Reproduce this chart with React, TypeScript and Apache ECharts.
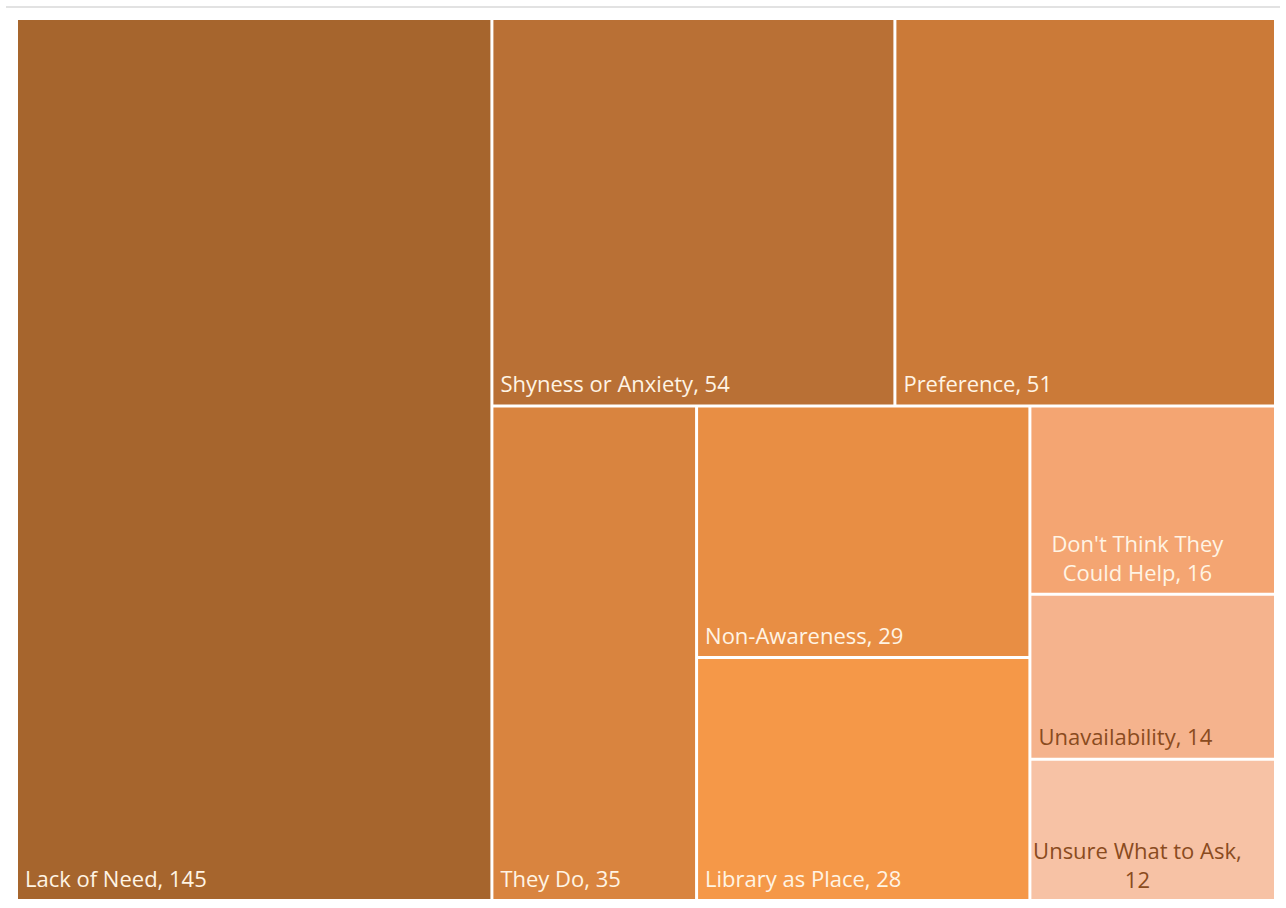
import React, { useEffect, useRef } from "react";
import * as echarts from "echarts";

const categories = [
  "Lack of Need",
  "Shyness or Anxiety",
  "Preference",
  "They Do",
  "Non-Awareness",
  "Library as Place",
  "Don't Think They Could Help",
  "Unavailability",
  "Unsure What to Ask",
];
const values = [145, 54, 51, 35, 29, 28, 16, 14, 12];
const colors = [
  "#A6652D",
  "#B97035",
  "#CB7A38",
  "#D9843F",
  "#E88E44",
  "#F59848",
  "#F4A572",
  "#F5B38D",
  "#F7C2A5",
];
const labelColors = [
  "#FFF4E4",
  "#FFF4E4",
  "#FFF4E4",
  "#FFF4E4",
  "#FFF4E4",
  "#FFF4E4",
  "#FFF4E4",
  "#8A4B20",
  "#8A4B20",
];
const wrapped = [false, false, false, false, false, false, true, false, true];

const FONT_FAMILY = "Open Sans";
const FONT_SIZE = 22;

function wrapText(text: string, maxWidth: number): string {
  const canvas = document.createElement("canvas");
  const ctx = canvas.getContext("2d");
  if (!ctx) return text;
  ctx.font = `${FONT_SIZE}px "${FONT_FAMILY}"`;
  const words = text.split(" ");
  const lines: string[] = [];
  let cur = "";
  for (const w of words) {
    const trial = cur ? cur + " " + w : w;
    if (cur && ctx.measureText(trial).width > maxWidth) {
      lines.push(cur);
      cur = w;
    } else {
      cur = trial;
    }
  }
  if (cur) lines.push(cur);
  return lines.join("\n");
}

export default function App() {
  const ref = useRef<HTMLDivElement>(null);
  useEffect(() => {
    if (!ref.current) return;
    const chart = echarts.init(ref.current, null, { renderer: "svg" });
    const data = categories.map((name, i) => ({
      name,
      value: values[i],
      itemStyle: { color: colors[i] },
      label: wrapped[i]
        ? {
            color: labelColors[i],
            position: [106, "100%"],
            align: "center",
            verticalAlign: "bottom",
            offset: [0, -6],
            formatter: (p: any) => wrapText(`${p.name}, ${p.value}`, 215),
          }
        : { color: labelColors[i] },
    }));
    chart.setOption({
      animation: false,
      backgroundColor: "#ffffff",
      graphic: [
        {
          type: "line",
          shape: { x1: 6, y1: 7, x2: 1280, y2: 7 },
          style: { stroke: "#e2e2e2", lineWidth: 2 },
        },
      ],
      series: [
        {
          type: "treemap",
          left: 16.5,
          top: 18.5,
          right: 10.5,
          bottom: 7.5,
          squareRatio: 0.76,
          roam: false,
          nodeClick: false,
          breadcrumb: { show: false },
          sort: "desc",
          label: {
            show: true,
            position: "insideBottomLeft",
            distance: 7,
            padding: 0,
            formatter: "{b}, {c}",
            fontFamily: FONT_FAMILY,
            fontSize: FONT_SIZE,
            lineHeight: 29,
          },
          levels: [
            { itemStyle: { borderWidth: 0, gapWidth: 0 } },
            { itemStyle: { borderWidth: 1.5, borderColor: "#ffffff", gapWidth: 0 } },
          ],
          data,
        },
      ],
    });
    return () => chart.dispose();
  }, []);
  return (
    <div
      ref={ref}
      style={{ position: "fixed", left: 0, top: 0, width: 1286, height: 908 }}
    />
  );
}
